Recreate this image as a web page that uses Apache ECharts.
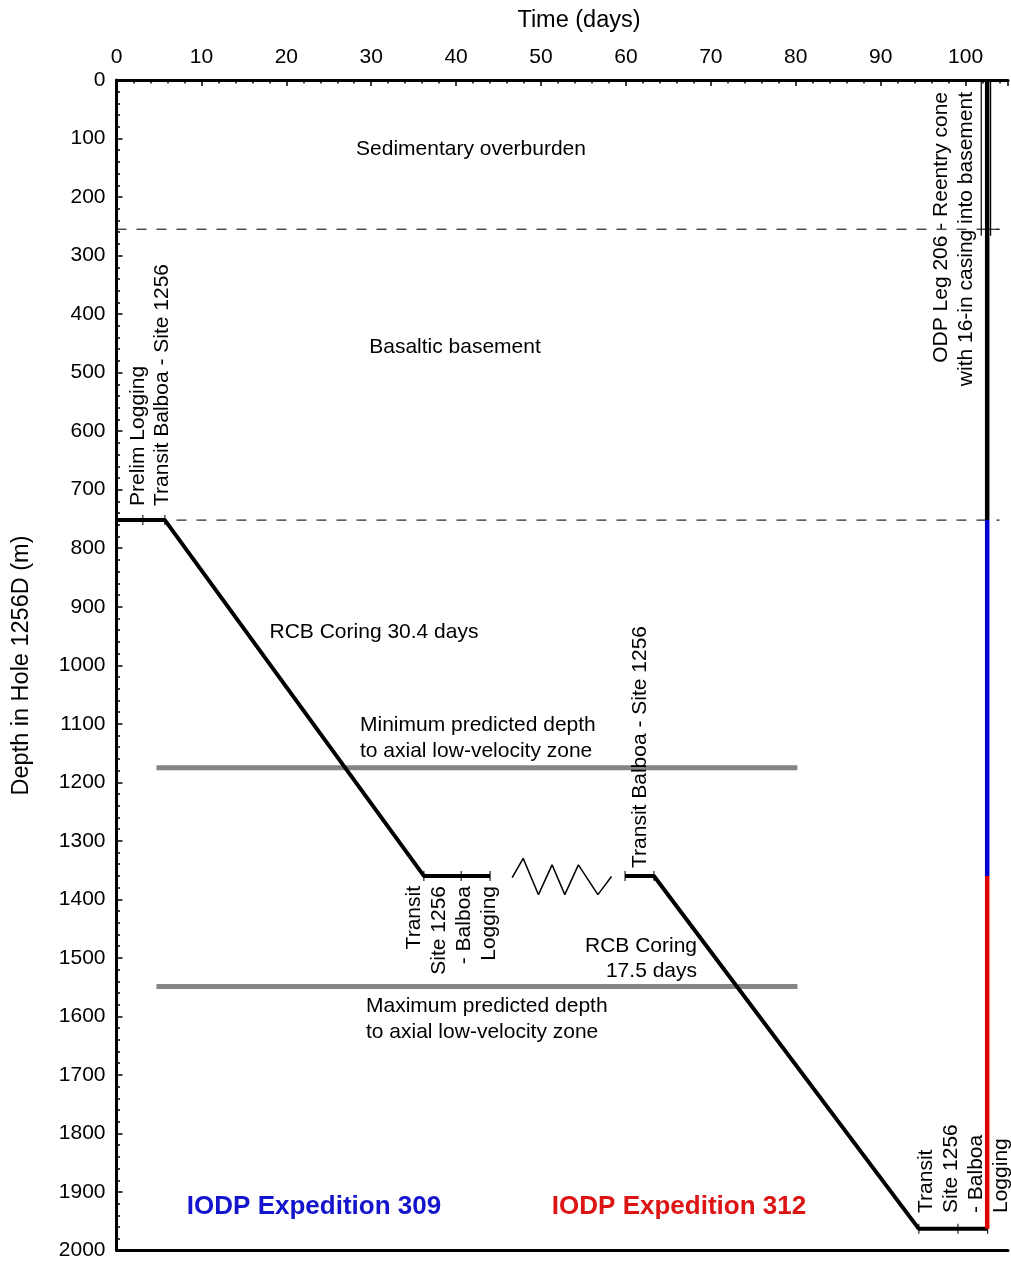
<!DOCTYPE html>
<html>
<head>
<meta charset="utf-8">
<script src="https://cdn.jsdelivr.net/npm/echarts@6/dist/echarts.min.js"></script>
<style>
  html, body { margin: 0; padding: 0; background: #fff; }
  #chart { width: 1011px; height: 1261px; }
</style>
</head>
<body>
<div id="chart"></div>
<script>
// Drilling progress of Hole 1256D: depth (m) against elapsed time (days)

// Expedition 309: logging, transit, RCB coring, transit back and logging
const exp309Path = [[0, 752], [5.7, 752], [36.2, 1360], [44.0, 1360]];
const exp309Ticks = [[3.1, 752], [5.7, 752], [36.2, 1360], [40.6, 1360], [44.0, 1360]];

// Break in time between the two expeditions
const timeBreak = [
  [46.6, 1363], [47.9, 1330], [49.7, 1392], [51.3, 1341],
  [52.8, 1392], [54.4, 1341], [56.7, 1392], [58.3, 1361]
];

// Expedition 312: transit, RCB coring, transit and logging
const exp312Path = [[59.9, 1360], [63.3, 1360], [94.5, 1963], [102.6, 1963]];
const exp312Ticks = [[59.9, 1360], [63.3, 1360], [94.5, 1963], [99.1, 1963], [102.6, 1963]];

// Hole column at the end of the timeline, by who drilled each part
const holeODP206 = [[102.55, 0], [102.55, 752]];
const holeExp309 = [[102.55, 752], [102.55, 1360]];
const holeExp312 = [[102.55, 1360], [102.55, 1963]];

// 16-in casing down into basement
const casingLeft = [[101.85, 0], [101.85, 266]];
const casingRight = [[102.95, 0], [102.95, 266]];
const casingShoe = [[102.6, 255], [104.0, 255]];

// Lithologic boundaries
const sedimentBase = [[0, 255], [104, 255]];
const basementRef = [[0, 752], [104, 752]];

// Predicted depth range of the axial low-velocity zone
const minLVZ = [[4.7, 1175], [80.2, 1175]];
const maxLVZ = [[4.7, 1549], [80.2, 1549]];

// Axis tick values
const timeMin = 0, timeMax = 105, timeStep = 10, timeMinorStep = 2, timeLabelMax = 100;
const depthMin = 0, depthMax = 2000, depthStep = 100;

const FONT = "'Liberation Sans', Arial, Helvetica, sans-serif";
const chart = echarts.init(document.getElementById('chart'), null, { renderer: 'canvas' });

function pathSeries(data, color, width, type, z) {
  return {
    type: 'line', data: data, symbol: 'none', silent: true, animation: false,
    lineStyle: { color: color, width: width, type: type || 'solid' },
    z: z || 3
  };
}
function tickSeries(data) {
  return {
    type: 'scatter', data: data, symbol: 'rect', symbolSize: [1.3, 10],
    itemStyle: { color: '#000' }, silent: true, animation: false, z: 4
  };
}
function label(text, x, y, opts) {
  opts = opts || {};
  const align = opts.align || 'center';
  return {
    type: 'text', x: x, y: y, rotation: opts.rot ? Math.PI / 2 : 0, z: 10,
    style: {
      text: text, fill: opts.color || '#000',
      font: (opts.bold ? 'bold ' : '') + (opts.size || 21) + 'px ' + FONT,
      align: align, textAlign: align,
      verticalAlign: 'middle', textVerticalAlign: 'middle'
    }
  };
}

const axisLineStyle = { color: '#000', width: 3 };
const tickLine = { color: '#000', width: 1.5 };

chart.setOption({
  animation: false,
  backgroundColor: '#fff',
  grid: { left: 116.5, top: 80, width: 894.6, height: 1171, containLabel: false },
  xAxis: [
    {
      // labelled time axis along the top
      type: 'value', position: 'top', min: timeMin, max: timeMax, interval: timeStep,
      axisLine: { show: true, onZero: false, lineStyle: axisLineStyle },
      axisTick: { show: true, inside: true, length: 6, lineStyle: tickLine },
      splitLine: { show: false },
      axisLabel: {
        color: '#000', fontSize: 21, fontFamily: FONT, margin: 12,
        formatter: function (v) { return v <= timeLabelMax && v % timeStep === 0 ? String(v) : ''; }
      },
      z: 6
    },
    {
      // every-2-day minor ticks on the top axis
      type: 'value', position: 'top', min: timeMin, max: timeMax, interval: timeMinorStep,
      axisLine: { show: false },
      axisTick: { show: true, inside: true, length: 3.5, lineStyle: tickLine },
      axisLabel: { show: false }, splitLine: { show: false }, z: 6
    },
    {
      // plain frame line along the bottom
      type: 'value', position: 'bottom', min: timeMin, max: timeMax,
      axisLine: { show: true, onZero: false, lineStyle: axisLineStyle },
      axisTick: { show: false }, axisLabel: { show: false }, splitLine: { show: false }
    }
  ],
  yAxis: {
    type: 'value', inverse: true, min: depthMin, max: depthMax, interval: depthStep,
    axisLine: { show: true, onZero: false, lineStyle: axisLineStyle },
    axisTick: { show: true, inside: true, length: 6, lineStyle: tickLine },
    minorTick: { show: true, splitNumber: 5, length: 3.5, lineStyle: tickLine },
    splitLine: { show: false },
    axisLabel: {
      color: '#000', fontSize: 21, fontFamily: FONT, margin: 11,
      formatter: function (v) { return String(v); }
    },
    z: 6
  },
  series: [
    pathSeries(sedimentBase, '#222', 1.2, [10, 10], 1),
    pathSeries(basementRef, '#222', 1.2, [10, 10], 1),
    pathSeries(minLVZ, '#858585', 5, 'solid', 2),
    pathSeries(maxLVZ, '#858585', 5, 'solid', 2),
    pathSeries(exp309Path, '#000', 4),
    tickSeries(exp309Ticks),
    pathSeries(timeBreak, '#000', 1.5),
    pathSeries(exp312Path, '#000', 4),
    tickSeries(exp312Ticks),
    pathSeries(casingLeft, '#000', 1.2),
    pathSeries(casingRight, '#000', 1.2),
    pathSeries(casingShoe, '#000', 1.2),
    pathSeries(holeODP206, '#000', 4.5, 'solid', 5),
    pathSeries(holeExp309, '#0000d0', 4.5, 'solid', 5),
    pathSeries(holeExp312, '#e00000', 4.5, 'solid', 5)
  ],
  graphic: [
    label('Time (days)', 579, 21, { size: 23.5 }),
    label('Depth in Hole 1256D (m)', 22, 665.5, { size: 23.5, rot: true }),

    label('Sedimentary overburden', 471, 149),
    label('Basaltic basement', 455, 347),

    label('Prelim Logging', 138, 506, { rot: true, align: 'left' }),
    label('Transit Balboa - Site 1256', 162, 506, { rot: true, align: 'left' }),

    label('RCB Coring 30.4 days', 374, 632),

    label('Minimum predicted depth', 360, 725, { align: 'left' }),
    label('to axial low-velocity zone', 360, 751, { align: 'left' }),
    label('Maximum predicted depth', 366, 1006, { align: 'left' }),
    label('to axial low-velocity zone', 366, 1032, { align: 'left' }),

    label('Transit', 414, 886, { rot: true, align: 'right' }),
    label('Site 1256', 439, 886, { rot: true, align: 'right' }),
    label('- Balboa', 464, 886, { rot: true, align: 'right' }),
    label('Logging', 489, 886, { rot: true, align: 'right' }),

    label('Transit Balboa - Site 1256', 640, 868, { rot: true, align: 'left' }),
    label('RCB Coring', 697, 946, { align: 'right' }),
    label('17.5 days', 697, 971, { align: 'right' }),

    label('ODP Leg 206 - Reentry cone', 941, 92, { rot: true, align: 'right' }),
    label('with 16-in casing into basement', 966, 92, { rot: true, align: 'right' }),

    label('Transit', 926, 1213, { rot: true, align: 'left' }),
    label('Site 1256', 951, 1213, { rot: true, align: 'left' }),
    label('- Balboa', 976, 1213, { rot: true, align: 'left' }),
    label('Logging', 1001, 1213, { rot: true, align: 'left' }),

    label('IODP Expedition 309', 314, 1207, { bold: true, size: 26, color: '#1414cc' }),
    label('IODP Expedition 312', 679, 1207, { bold: true, size: 26, color: '#dd1414' })
  ]
});
</script>
</body>
</html>
